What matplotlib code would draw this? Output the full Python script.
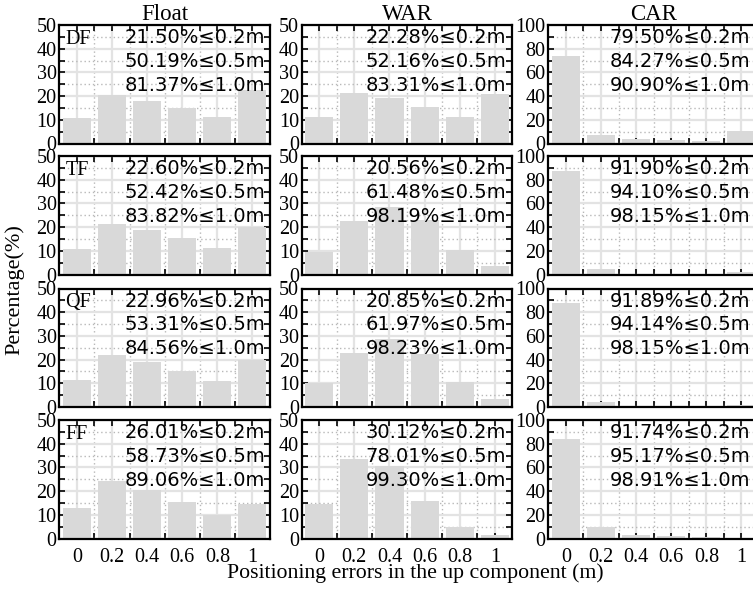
import matplotlib
matplotlib.use("Agg")
import matplotlib.pyplot as plt
import numpy as np

# ---------------- data ----------------
bins = [0, 0.2, 0.4, 0.6, 0.8, 1.0]
bin_labels = ["0", "0.2", "0.4", "0.6", "0.8", "1"]
col_titles = ["Float", "WAR", "CAR"]
row_labels = ["DF", "TF", "QF", "FF"]

float_vals = [
    [10.8, 20.6, 18.1, 15.1, 11.3, 22.4],
    [10.8, 21.4, 18.6, 15.3, 11.1, 19.9],
    [11.3, 22.1, 19.1, 15.3, 11.0, 19.7],
    [12.9, 24.4, 20.6, 15.5, 10.1, 14.6],
]
war_vals = [
    [11.3, 21.3, 19.2, 15.4, 11.3, 20.8],
    [9.7, 22.5, 28.5, 23.0, 10.4, 3.5],
    [10.0, 22.9, 28.9, 22.5, 10.4, 3.4],
    [14.6, 33.4, 30.8, 15.9, 5.0, 1.3],
]
car_vals = [
    [73.8, 7.0, 3.7, 3.1, 2.5, 10.4],
    [87.3, 4.5, 0.8, 0.5, 0.4, 2.0],
    [87.7, 4.3, 0.6, 0.4, 0.3, 2.0],
    [83.8, 9.9, 2.6, 1.7, 1.0, 0.8],
]

float_txt = [
    ["21.50%≤0.2m", "50.19%≤0.5m", "81.37%≤1.0m"],
    ["22.60%≤0.2m", "52.42%≤0.5m", "83.82%≤1.0m"],
    ["22.96%≤0.2m", "53.31%≤0.5m", "84.56%≤1.0m"],
    ["26.01%≤0.2m", "58.73%≤0.5m", "89.06%≤1.0m"],
]
war_txt = [
    ["22.28%≤0.2m", "52.16%≤0.5m", "83.31%≤1.0m"],
    ["20.56%≤0.2m", "61.48%≤0.5m", "98.19%≤1.0m"],
    ["20.85%≤0.2m", "61.97%≤0.5m", "98.23%≤1.0m"],
    ["30.12%≤0.2m", "78.01%≤0.5m", "99.30%≤1.0m"],
]
car_txt = [
    ["79.50%≤0.2m", "84.27%≤0.5m", "90.90%≤1.0m"],
    ["91.90%≤0.2m", "94.10%≤0.5m", "98.15%≤1.0m"],
    ["91.89%≤0.2m", "94.14%≤0.5m", "98.15%≤1.0m"],
    ["91.74%≤0.2m", "95.17%≤0.5m", "98.91%≤1.0m"],
]

all_vals = [float_vals, war_vals, car_vals]
all_txt = [float_txt, war_txt, car_txt]
ymax = [50, 50, 100]
ymajor = [10, 10, 20]

# ---------------- layout ----------------
W, H = 753, 589
fig = plt.figure(figsize=(W / 100, H / 100), dpi=100)
serif = "Liberation Serif"
sans = "DejaVu Sans"

col_left = [59.3, 301.7, 548.3]
col_w = 210.7
row_top = [25, 156, 288.5, 420]
row_h = 118.5
txt_x = [0.31, 0.303, 0.29]

for c in range(3):
    for r in range(4):
        ax = fig.add_axes([col_left[c] / W, 1 - (row_top[r] + row_h) / H,
                           col_w / W, row_h / H])
        ax.set_axisbelow(True)
        ax.bar(bins, all_vals[c][r], width=0.16, color="#d9d9d9", zorder=2)
        ax.set_xlim(-0.1, 1.1)
        ax.set_ylim(0, ymax[c])
        ax.set_xticks(bins)
        ax.set_xticks(np.arange(0.1, 1.1, 0.2), minor=True)
        ax.set_yticks(np.arange(0, ymax[c] + 1, ymajor[c]))
        ax.set_yticks(np.arange(ymajor[c] / 2, ymax[c], ymajor[c]), minor=True)
        if r == 3:
            ax.set_xticklabels(bin_labels, fontfamily=serif, fontsize=14.5)
        else:
            ax.set_xticklabels([])
        for lab in ax.get_yticklabels():
            lab.set_fontfamily(serif)
            lab.set_fontsize(14.5)
        ax.tick_params(which="both", direction="in", top=True, right=True,
                       length=4, width=1.2, pad=2)
        ax.tick_params(axis="x", which="major", pad=7)
        ax.grid(which="major", color="#e3e3e3", linestyle="-", linewidth=1.6, zorder=0)
        ax.grid(which="minor", color="#b8b8b8", linestyle=(0, (1, 2)), linewidth=1.0, zorder=0)
        for s in ax.spines.values():
            s.set_linewidth(1.6)
            s.set_zorder(5)
        if r == 0:
            ax.set_title(col_titles[c], fontfamily=serif, fontsize=16.5, pad=3)
        if c == 0:
            ax.text(0.03, 0.84, row_labels[r], transform=ax.transAxes,
                    fontfamily=serif, fontsize=14.5, va="baseline", ha="left", zorder=6)
        for k, yy in enumerate([0.846, 0.648, 0.447]):
            ax.text(txt_x[c], yy, all_txt[c][r][k], transform=ax.transAxes,
                    fontfamily=sans, fontsize=14, va="baseline", ha="left", zorder=6)

fig.text(15 / W, 1 - 290 / H, "Percentage(%)", rotation=90, fontfamily=serif,
         fontsize=16, ha="center", va="center")
fig.text(415 / W, 1 - 578 / H, "Positioning errors in the up component (m)",
         fontfamily=serif, fontsize=15.7, ha="center", va="baseline")

fig.savefig("out.png", dpi=100)
